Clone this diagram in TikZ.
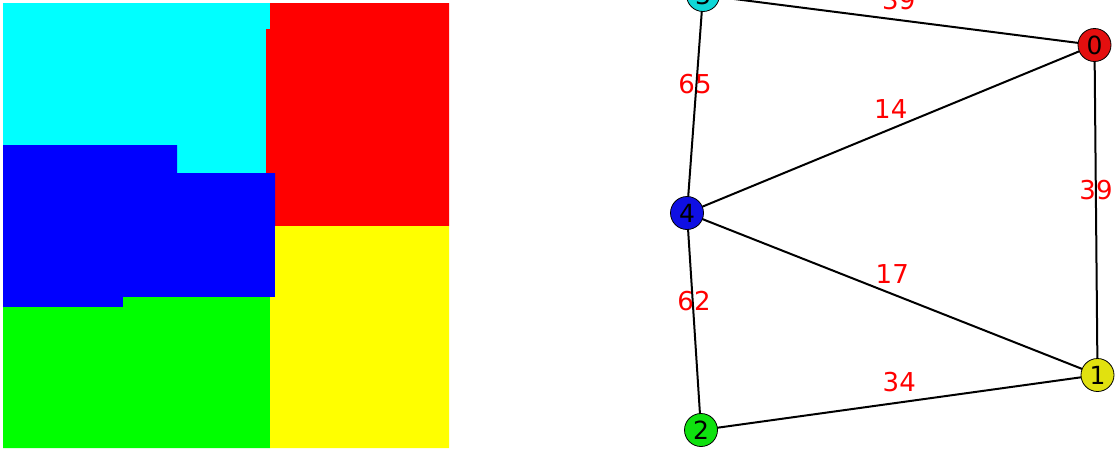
\documentclass[tikz,border=0pt]{standalone}
\usepackage{fontspec}
\setmainfont{DejaVu Sans}
\definecolor{ncyan}{RGB}{15,215,215}
\definecolor{nred}{RGB}{228,15,15}
\definecolor{nblue}{RGB}{15,15,228}
\definecolor{ngreen}{RGB}{15,225,15}
\definecolor{nyellow}{RGB}{225,225,15}
\definecolor{pcyan}{RGB}{0,255,255}
\definecolor{pred}{RGB}{255,0,0}
\definecolor{pblue}{RGB}{0,0,255}
\definecolor{pgreen}{RGB}{0,255,0}
\definecolor{pyellow}{RGB}{255,255,0}
\begin{document}
\begin{tikzpicture}[x=1pt,y=-1pt,
  gnode/.style={circle,draw=black,line width=0.8pt,minimum size=33pt,inner sep=0pt,font=\fontsize{25}{25}\selectfont},
  gedge/.style={draw=black,line width=2pt},
  elabel/.style={text=red,font=\fontsize{26}{26}\selectfont,inner sep=0pt,yshift=20pt}]
\useasboundingbox (0,0) rectangle (1115,448);
\clip (0,0) rectangle (1115,448);
% partition picture
\fill[pcyan] (3,3) -- (270,3) -- (270,29) -- (266,29) -- (266,173) -- (177,173) -- (177,145) -- (3,145) -- cycle;
\fill[pred] (270,3) -- (449,3) -- (449,226) -- (275,226) -- (275,173) -- (266,173) -- (266,29) -- (270,29) -- cycle;
\fill[pblue] (3,145) -- (177,145) -- (177,173) -- (275,173) -- (275,297) -- (123,297) -- (123,307) -- (3,307) -- cycle;
\fill[pgreen] (3,307) -- (123,307) -- (123,297) -- (270,297) -- (270,448) -- (3,448) -- cycle;
\fill[pyellow] (275,226) -- (449,226) -- (449,448) -- (270,448) -- (270,297) -- (275,297) -- cycle;
% graph
\coordinate (c3) at (703,-5);
\coordinate (c0) at (1094.5,45);
\coordinate (c4) at (687,213);
\coordinate (c2) at (701,430);
\coordinate (c1) at (1097.5,375);
\draw[gedge] (c3) -- node[elabel,midway]{39} (c0);
\draw[gedge] (c3) -- node[elabel,midway]{65} (c4);
\draw[gedge] (c4) -- node[elabel,midway]{14} (c0);
\draw[gedge] (c0) -- node[elabel,midway]{39} (c1);
\draw[gedge] (c4) -- node[elabel,midway]{17} (c1);
\draw[gedge] (c4) -- node[elabel,midway]{62} (c2);
\draw[gedge] (c2) -- node[elabel,midway]{34} (c1);
\node[gnode,fill=ncyan] (n3) at (c3) {3};
\node[gnode,fill=nred] (n0) at (c0) {0};
\node[gnode,fill=nblue] (n4) at (c4) {4};
\node[gnode,fill=ngreen] (n2) at (c2) {2};
\node[gnode,fill=nyellow] (n1) at (c1) {1};
\end{tikzpicture}
\end{document}
